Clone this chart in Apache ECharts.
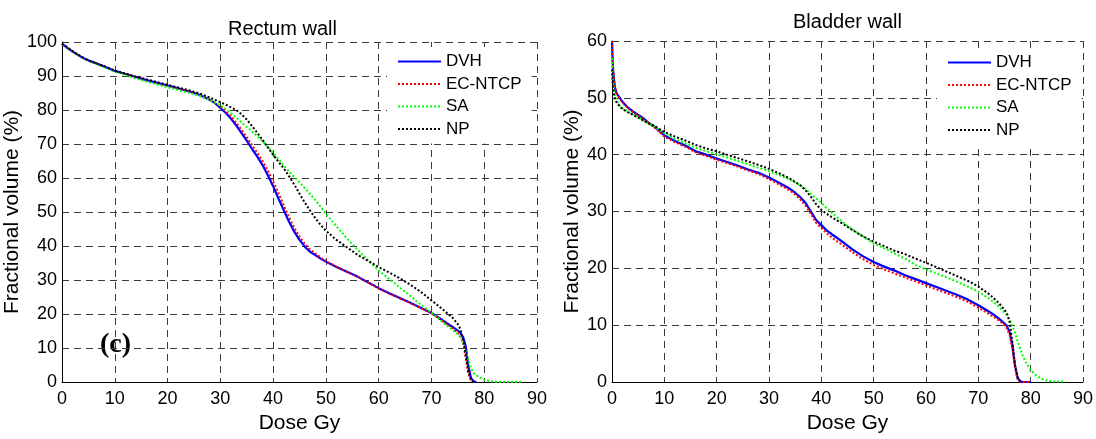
<!DOCTYPE html>
<html>
<head>
<meta charset="utf-8">
<script src="https://cdn.jsdelivr.net/npm/echarts@6/dist/echarts.min.js"></script>
<style>
html,body{margin:0;padding:0;background:#fff;}
#c{width:1096px;height:439px;}
</style>
</head>
<body>
<div id="c"></div>
<script>
// ---------- Data ----------
const seriesNames = ['DVH', 'EC-NTCP', 'SA', 'NP'];
const xTicks = [0, 10, 20, 30, 40, 50, 60, 70, 80, 90];

// Rectum wall
const rectumDose = [0,1,2,3,4,5,6,8,10,12,14,16,18,20,22,24,26,28,29,30,31,32,33,34,35,36,37,38,39,40,41,42,43,44,45,46,47,48,49,50,52,54,56,58,60,62,64,66,68,70,71,72,73,74,75,75.5,76,76.5,77,77.5,78,78.5,79,79.5,80,81,82,84,87];
const rectumDVH = [99.5,98.3,97.2,96.2,95.3,94.6,94,92.8,91.5,90.6,89.7,88.8,88,87.2,86.4,85.5,84.5,83,82,80.6,79.2,77.5,75.5,73.3,71,68.6,66.3,63.8,60.8,57.6,54,50.6,47.2,44.2,41.8,39.8,38.3,37.3,36.3,35.4,33.8,32.4,31,29.3,27.6,26.1,24.7,23.3,21.8,20.3,19.3,18.3,17.2,16.2,15.1,14.4,13.2,10.5,4.5,1.2,0.2,0,null,null,null,null,null,null,null];
const rectumECNTCP = [99.5,98.3,97.2,96.2,95.3,94.6,94,92.8,91.5,90.6,89.7,88.8,88,87.2,86.4,85.5,84.5,83,82.1,81,79.7,78.2,76.3,74.2,72,69.7,67.4,65,62.2,59,55.6,52,48.5,45.4,42.8,40.6,39,37.8,36.6,35.6,33.9,32.4,30.9,29.2,27.5,26,24.6,23.2,21.7,20.2,19.1,18,16.9,15.8,14.5,13.5,11.5,7,2.5,0.5,0,null,null,null,null,null,null,null,null];
const rectumSA = [99.5,98.3,97.2,96.2,95.3,94.5,93.9,92.6,91.3,90.3,89.3,88.4,87.5,86.7,85.9,85.1,84.2,82.9,82.2,81.4,80.3,79.1,77.8,76.4,75,73.7,72.3,70.8,69.2,67.3,65.6,63.7,62,60.3,58.7,57,55.3,53.5,51.5,49.5,45.8,42.2,38.9,35.8,32.8,30.3,27.8,25.3,22.7,20.4,19.1,17.8,16.5,15.3,14,13.2,11.5,9,6.5,4,2.6,2,1.5,1,0.6,0.3,0.1,0.1,0.1];
const rectumNP = [99.5,98.4,97.3,96.3,95.4,94.6,94,92.9,91.6,90.7,89.8,89,88.2,87.4,86.6,85.8,84.9,83.7,83,82.3,81.6,80.8,80,78.8,77.2,75.3,73.3,71.2,69,66.8,64.8,62.9,60.6,58.1,55.4,52.8,50.4,48.2,46.2,44.5,41.8,39.6,37.4,35.6,33.8,32.2,30.5,28.6,26.5,24,22.8,21.5,20.2,18.9,17,15.5,12.5,8,3,0.5,0,null,null,null,null,null,null,null,null];

// Bladder wall
const bladderDose = [0,0.1,0.2,0.4,0.6,0.8,1,1.5,2,3,4,5,6,7,8,10,12,14,16,18,20,22,24,26,28,30,32,34,35,36,37,38,39,40,41,42,44,46,48,50,52,54,56,58,60,62,64,66,68,70,72,73,74,75,75.5,76,76.5,77,77.5,78,78.5,79,79.5,80,81,82,83,84,86.5];
const bladderDVH = [60,57,55,53,51.7,51,50.6,50,49.3,48.3,47.6,47,46.4,45.6,45,43.4,42.4,41.6,40.6,40,39.3,38.7,38.1,37.4,36.8,36,35,34,33.3,32.5,31.5,30,28.5,27.6,26.7,26,24.7,23.3,22.1,21.1,20.3,19.6,18.8,18.1,17.4,16.7,16,15.3,14.5,13.5,12.4,11.8,11.1,10.3,9.8,8.7,6.5,3,0.8,0.1,0,0,0,0,null,null,null,null,null];
const bladderECNTCP = [60,57.5,55.5,53.2,51.8,51,50.5,49.9,49.2,48.2,47.5,46.9,46.3,45.5,44.9,43.2,42.2,41.4,40.4,39.8,39.1,38.5,37.9,37.2,36.6,35.7,34.7,33.7,33,32.1,31,29.6,28,27.1,26.2,25.4,24.1,22.8,21.6,20.6,19.8,19.1,18.4,17.7,17,16.3,15.6,14.9,14.1,13.1,12,11.4,10.8,10,9.4,8.2,5.8,2.5,0.5,0,0,0,0,0,null,null,null,null,null];
const bladderSA = [57,54.5,53,51.3,50.3,49.7,49.3,48.6,48.2,47.6,47.1,46.6,46,45.5,45,43.8,42.8,42,41.2,40.6,40.1,39.5,38.9,38.3,37.7,37.1,36.4,35.6,35.1,34.6,34,33.1,32.3,31.5,30.6,29.8,28.2,26.8,25.6,24.4,23.5,22.6,21.7,20.6,19.8,19.1,18.4,17.6,16.8,15.9,14.7,14,13.2,12.2,11.7,11,10,8.7,7.2,5.8,4.6,3.6,2.8,2.1,1.2,0.6,0.3,0.1,0.1];
const bladderNP = [55,53,51.8,50.5,49.8,49.3,49,48.5,48,47.5,47,46.5,46,45.5,45.1,44,43.2,42.5,41.7,41.1,40.6,40,39.4,38.8,38.2,37.5,36.7,35.8,35.2,34.6,33.7,32.6,31.3,30.3,29.6,29,27.9,26.7,25.6,24.7,23.9,23.1,22.5,21.7,21,20.2,19.4,18.6,17.8,16.8,15.5,14.7,13.8,12.7,12,10.5,7,3,0.8,0,null,null,null,null,null,null,null,null,null];

// ---------- Build ----------
function pairs(xs, ys) {
  const out = [];
  for (let i = 0; i < xs.length; i++) if (ys[i] !== null && ys[i] !== undefined) out.push([xs[i], ys[i]]);
  return out;
}
const FONT = 'Liberation Sans, Arial, sans-serif';
const colors = ['#0000ff', '#ff0000', '#00ff00', '#000000'];
const dot = [2, 2];

function mkSeries(name, idx, data, gi) {
  const solid = idx === 0;
  return {
    name: name, type: 'line', xAxisIndex: gi, yAxisIndex: gi,
    data: data, symbol: 'none', showSymbol: false, animation: false,
    lineStyle: { color: colors[idx], width: solid ? 2.2 : 2, type: solid ? 'solid' : dot },
    itemStyle: { color: colors[idx] },
    z: 2 + idx
  };
}

const rectumSets = [rectumDVH, rectumECNTCP, rectumSA, rectumNP];
const bladderSets = [bladderDVH, bladderECNTCP, bladderSA, bladderNP];
const series = [];
seriesNames.forEach((n, i) => series.push(mkSeries(n, i, pairs(rectumDose, rectumSets[i]), 0)));
seriesNames.forEach((n, i) => series.push(mkSeries(n, i, pairs(bladderDose, bladderSets[i]), 1)));

const gridLine = { show: true, lineStyle: { color: '#3a3a3a', width: 1, type: [7, 5] } };
function xAxis(gi) {
  return {
    gridIndex: gi, type: 'value', min: xTicks[0], max: xTicks[xTicks.length - 1], interval: 10,
    axisLine: { show: true, onZero: false, lineStyle: { color: '#000', width: 1 } },
    axisTick: { show: false },
    axisLabel: { color: '#000', fontSize: 18, fontFamily: FONT, margin: 8 },
    splitLine: gridLine,
    name: 'Dose Gy', nameLocation: 'middle', nameGap: 31,
    nameTextStyle: { color: '#000', fontSize: 21, fontFamily: FONT }
  };
}
function yAxis(gi, max, gap) {
  return {
    gridIndex: gi, type: 'value', min: 0, max: max, interval: 10,
    axisLine: { show: true, onZero: false, lineStyle: { color: '#000', width: 1 } },
    axisTick: { show: false },
    axisLabel: { color: '#000', fontSize: 18, fontFamily: FONT, margin: 5 },
    splitLine: gridLine,
    name: 'Fractional volume (%)', nameLocation: 'middle', nameRotate: 90, nameGap: gap,
    nameTextStyle: { color: '#000', fontSize: 21, fontFamily: FONT }
  };
}
function legend(left, top) {
  return {
    data: seriesNames, orient: 'vertical', left: left, top: top,
    itemWidth: 43, itemHeight: 4, itemGap: 5.5,
    backgroundColor: '#fff', borderWidth: 0, padding: [6, 10, 6, 10],
    itemStyle: { opacity: 0 },
    textStyle: { color: '#000', fontSize: 17, fontFamily: FONT },
    selectedMode: false
  };
}

const chart = echarts.init(document.getElementById('c'), null, { renderer: 'canvas' });
chart.setOption({
  animation: false,
  backgroundColor: '#fff',
  grid: [
    { left: 62, top: 42, width: 475, height: 350 },
    { left: 612, top: 41, width: 474, height: 351 }
  ],
  xAxis: [xAxis(0), xAxis(1)],
  yAxis: [yAxis(0, 100, 28), yAxis(1, 60, 25)],
  legend: [legend(387, 47), legend(937, 48)],
  graphic: [
    { type: 'text', left: 284 - 56, top: 19, style: { text: 'Rectum wall', font: '20px ' + FONT, fill: '#000' } },
    { type: 'text', left: 849 - 56, top: 12, style: { text: 'Bladder wall', font: '20px ' + FONT, fill: '#000' } },
    { type: 'text', left: 100, top: 331, style: { text: '(c)', font: 'bold 28px Liberation Serif, Times New Roman, serif', fill: '#000' } }
  ],
  series: series
});
</script>
</body>
</html>
